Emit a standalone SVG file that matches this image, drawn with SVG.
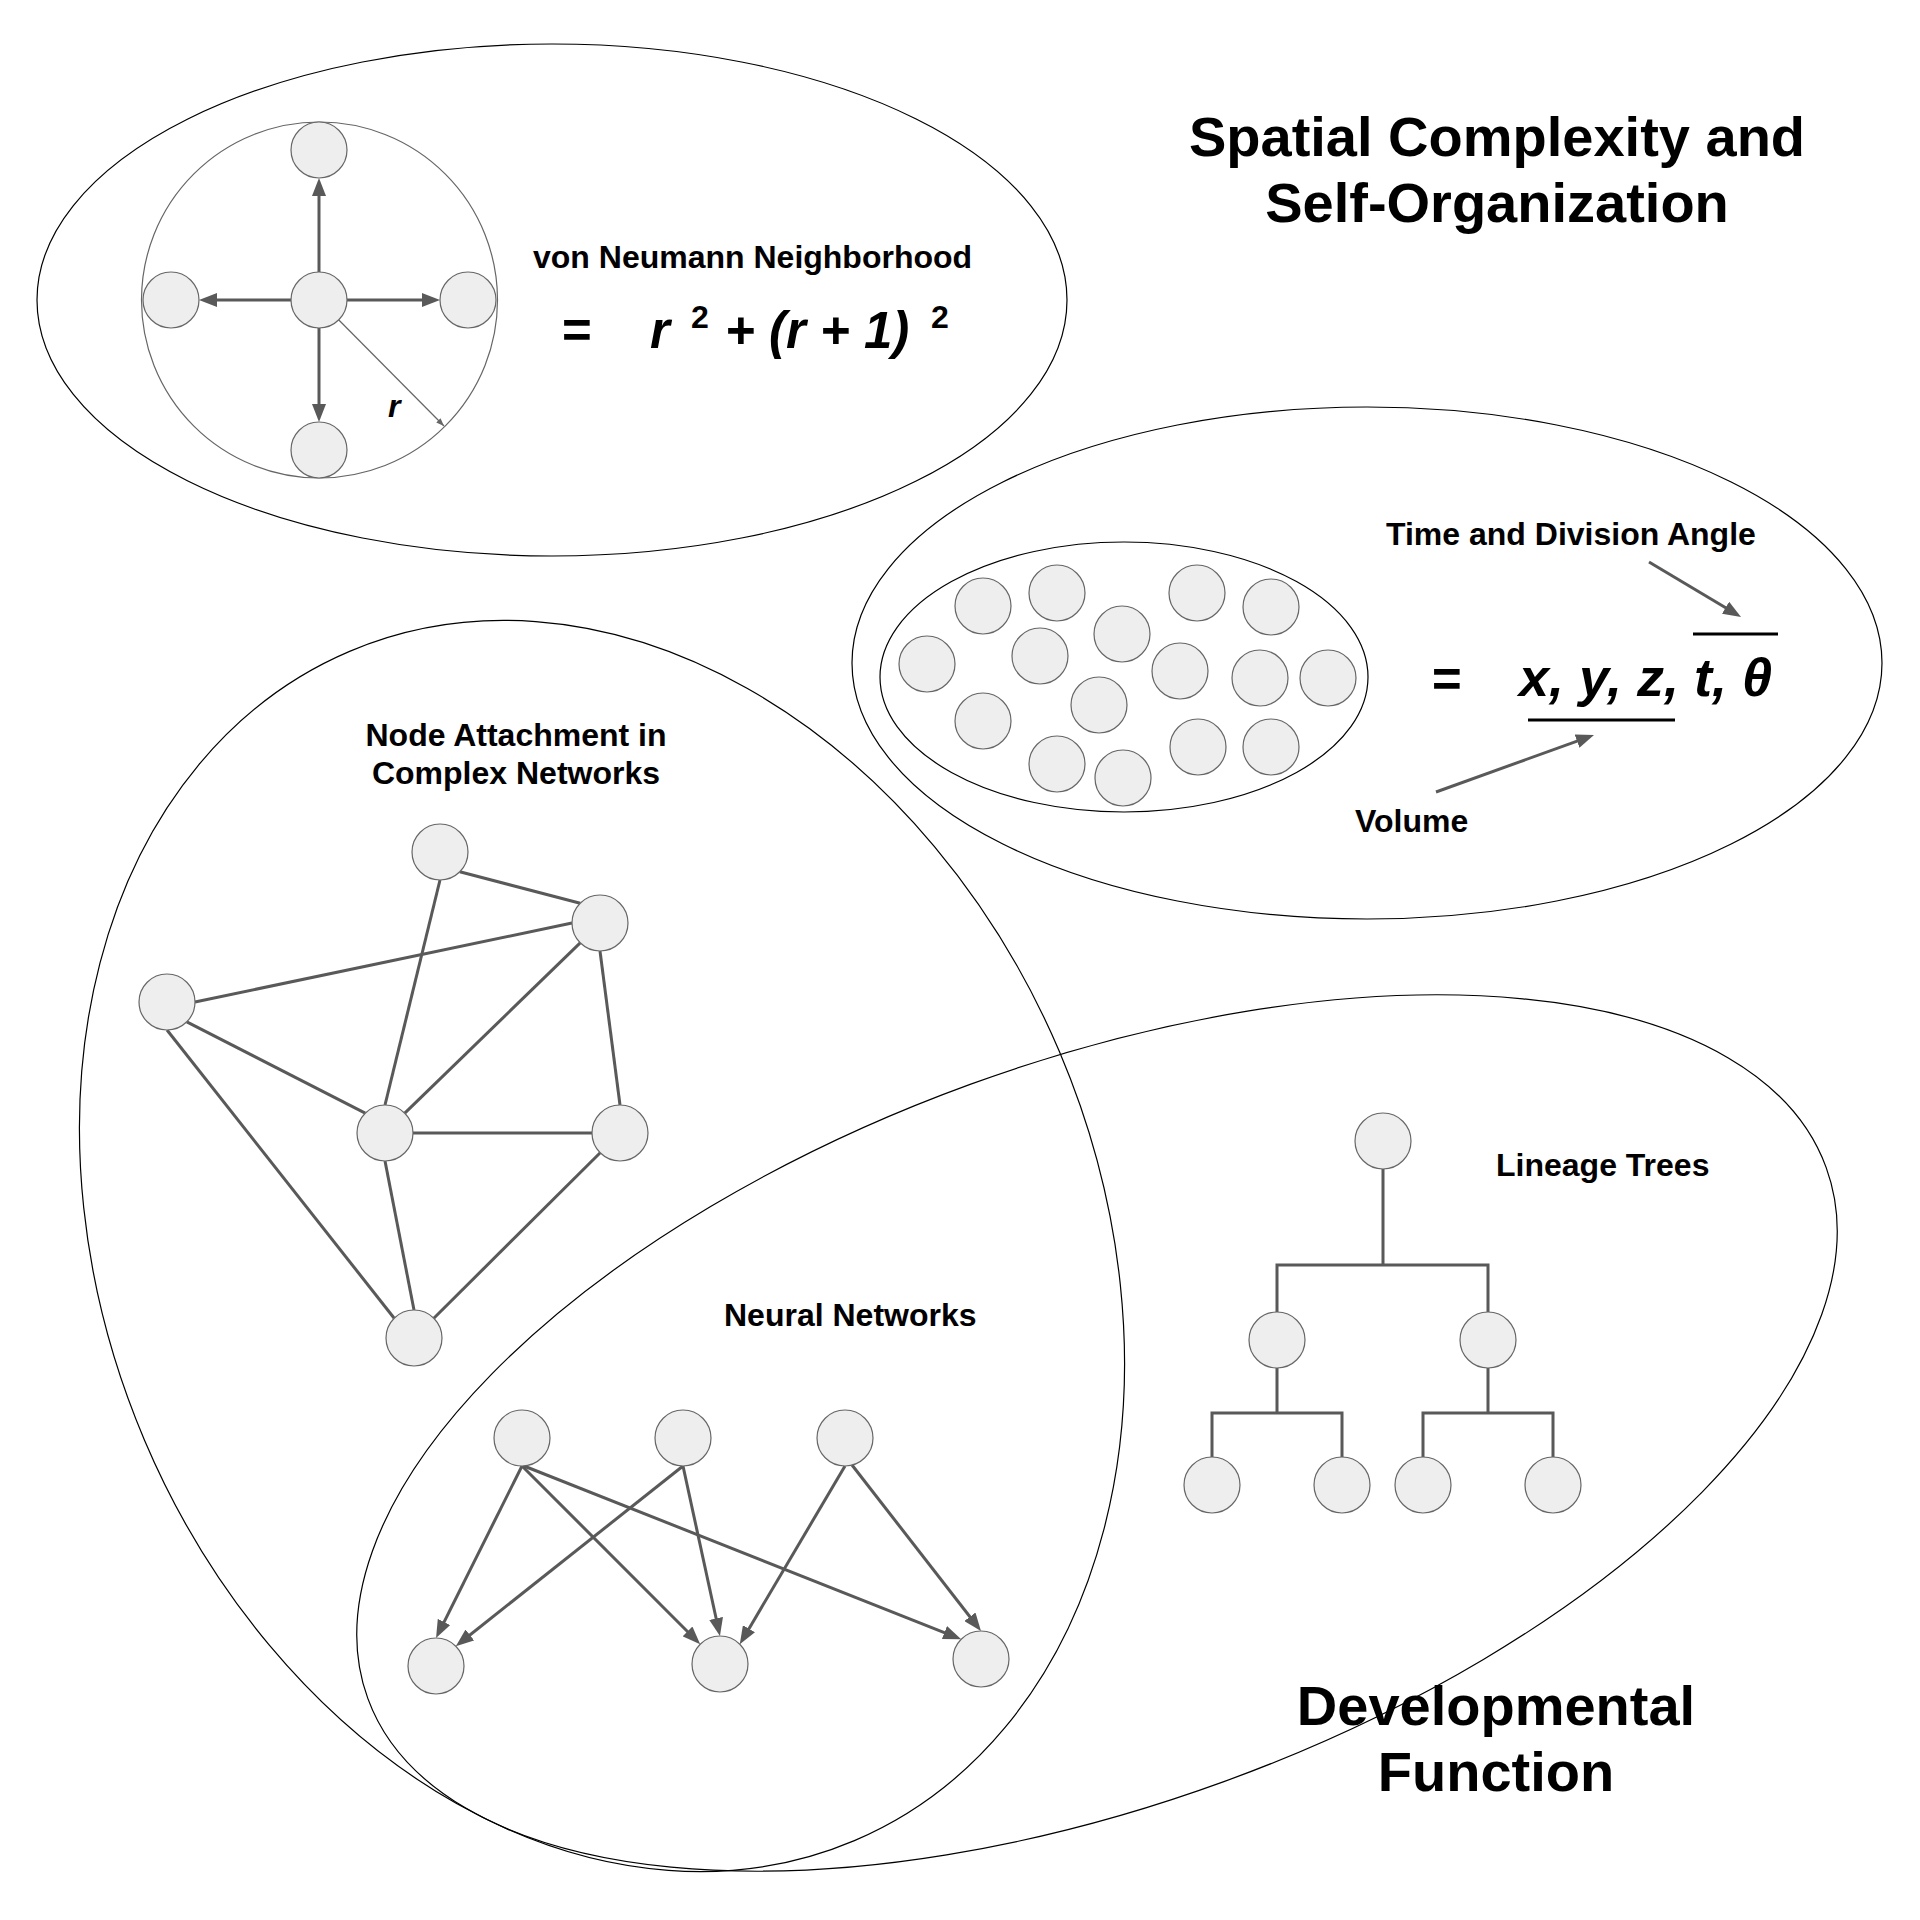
<svg xmlns="http://www.w3.org/2000/svg" width="1920" height="1920" viewBox="0 0 1920 1920">
<defs>
<style>
.region{fill:none;stroke:#000;stroke-width:1.2}
.ring{fill:none;stroke:#666;stroke-width:1.2}
.node{fill:#eeeeee;stroke:#666666;stroke-width:1.2}
.edge{fill:none;stroke:#595959;stroke-width:3}
.arr{fill:none;stroke:#595959;stroke-width:3;marker-end:url(#ah)}
.thin{fill:none;stroke:#666;stroke-width:1.2;marker-end:url(#ahs)}
.bar{stroke:#000;stroke-width:3}
text{font-family:"Liberation Sans",Arial,sans-serif;font-weight:bold;fill:#000}
.lbl{font-size:32px}
.big{font-size:56px}
.math{font-size:51px;font-style:italic}
.math2{font-size:54px;font-style:italic}
.sup{font-size:32px;font-style:normal}
</style>
<marker id="ah" markerUnits="userSpaceOnUse" markerWidth="18" markerHeight="14" viewBox="0 0 18 14" refX="6" refY="7" orient="auto">
<path d="M0,0 L18,7 L0,14 z" fill="#595959"/>
</marker>
<marker id="ahs" markerUnits="userSpaceOnUse" markerWidth="8" markerHeight="6" viewBox="0 0 8 6" refX="8" refY="3" orient="auto">
<path d="M0,0 L8,3 L0,6 z" fill="#666"/>
</marker>
</defs>
<rect width="1920" height="1920" fill="#fff"/>

<g id="regions">
<ellipse id="region-vonneumann" class="region" cx="552" cy="300" rx="515" ry="256"/>
<ellipse id="region-volume" class="region" cx="1367" cy="663" rx="515" ry="256"/>
<ellipse id="region-cells" class="region" cx="1124" cy="677" rx="244" ry="135"/>
<ellipse id="region-networks" class="region" cx="602" cy="1246" rx="497" ry="646" transform="rotate(-23 602 1246)"/>
<ellipse id="region-developmental" class="region" cx="1097" cy="1433" rx="776" ry="371" transform="rotate(-20 1097 1433)"/>
<circle id="vn-range" class="ring" cx="319.5" cy="300" r="178"/>
</g>

<g id="connectors">
<line class="arr" x1="319" y1="272" x2="319" y2="190"/>
<line class="arr" x1="291" y1="300" x2="211" y2="300"/>
<line class="arr" x1="347" y1="300" x2="428" y2="300"/>
<line class="arr" x1="319" y1="328" x2="319" y2="410"/>
<line class="thin" x1="319" y1="300" x2="444" y2="426"/>

<line class="arr" x1="1649" y1="562" x2="1730.7" y2="610.8"/>
<line class="arr" x1="1436" y1="792" x2="1582.7" y2="739.1"/>

<line class="edge" x1="459.8" y1="871.8" x2="580.2" y2="903.2"/>
<line class="edge" x1="440" y1="880" x2="385" y2="1105"/>
<line class="edge" x1="195" y1="1002" x2="572" y2="923"/>
<line class="edge" x1="186.8" y1="1021.8" x2="365.2" y2="1113.2"/>
<line class="edge" x1="167" y1="1030" x2="394.2" y2="1318.2"/>
<line class="edge" x1="580.2" y1="942.8" x2="404.8" y2="1113.2"/>
<line class="edge" x1="600" y1="951" x2="620" y2="1105"/>
<line class="edge" x1="413" y1="1133" x2="592" y2="1133"/>
<line class="edge" x1="385" y1="1161" x2="414" y2="1310"/>
<line class="edge" x1="600.2" y1="1152.8" x2="433.8" y2="1318.2"/>

<line class="arr" x1="522" y1="1466" x2="441.4" y2="1627.3"/>
<line class="arr" x1="522" y1="1466" x2="691.7" y2="1635.7"/>
<line class="arr" x1="524" y1="1466" x2="950" y2="1634.8"/>
<line class="arr" x1="683" y1="1466" x2="465.2" y2="1638.7"/>
<line class="arr" x1="683" y1="1466" x2="717.4" y2="1624.3"/>
<line class="arr" x1="845" y1="1466" x2="745.9" y2="1633.9"/>
<line class="arr" x1="852" y1="1465" x2="973.6" y2="1621.5"/>

<path class="edge" d="M1383,1169 V1265 M1277,1312 V1265 H1488 V1312"/>
<path class="edge" d="M1277,1368 V1413 M1212,1457 V1413 H1342 V1457"/>
<path class="edge" d="M1488,1368 V1413 M1423,1457 V1413 H1553 V1457"/>
</g>

<g id="vn-top"><circle class="node" cx="319" cy="150" r="28"/></g>
<g id="vn-left"><circle class="node" cx="171" cy="300" r="28"/></g>
<g id="vn-center"><circle class="node" cx="319" cy="300" r="28"/></g>
<g id="vn-right"><circle class="node" cx="468" cy="300" r="28"/></g>
<g id="vn-bottom"><circle class="node" cx="319" cy="450" r="28"/></g>

<g id="cells">
<circle class="node" cx="927" cy="664" r="28"/>
<circle class="node" cx="983" cy="606" r="28"/>
<circle class="node" cx="983" cy="721" r="28"/>
<circle class="node" cx="1057" cy="593" r="28"/>
<circle class="node" cx="1040" cy="656" r="28"/>
<circle class="node" cx="1057" cy="764" r="28"/>
<circle class="node" cx="1122" cy="634" r="28"/>
<circle class="node" cx="1099" cy="705" r="28"/>
<circle class="node" cx="1123" cy="778" r="28"/>
<circle class="node" cx="1197" cy="593" r="28"/>
<circle class="node" cx="1180" cy="671" r="28"/>
<circle class="node" cx="1198" cy="747" r="28"/>
<circle class="node" cx="1271" cy="607" r="28"/>
<circle class="node" cx="1260" cy="678" r="28"/>
<circle class="node" cx="1271" cy="747" r="28"/>
<circle class="node" cx="1328" cy="678" r="28"/>
</g>

<g id="net-t"><circle class="node" cx="440" cy="852" r="28"/></g>
<g id="net-b"><circle class="node" cx="600" cy="923" r="28"/></g>
<g id="net-a"><circle class="node" cx="167" cy="1002" r="28"/></g>
<g id="net-c"><circle class="node" cx="385" cy="1133" r="28"/></g>
<g id="net-e"><circle class="node" cx="620" cy="1133" r="28"/></g>
<g id="net-d"><circle class="node" cx="414" cy="1338" r="28"/></g>

<g id="nn-in1"><circle class="node" cx="522" cy="1438" r="28"/></g>
<g id="nn-in2"><circle class="node" cx="683" cy="1438" r="28"/></g>
<g id="nn-in3"><circle class="node" cx="845" cy="1438" r="28"/></g>
<g id="nn-out1"><circle class="node" cx="436" cy="1666" r="28"/></g>
<g id="nn-out2"><circle class="node" cx="720" cy="1664" r="28"/></g>
<g id="nn-out3"><circle class="node" cx="981" cy="1659" r="28"/></g>

<g id="tree-root"><circle class="node" cx="1383" cy="1141" r="28"/></g>
<g id="tree-l"><circle class="node" cx="1277" cy="1340" r="28"/></g>
<g id="tree-r"><circle class="node" cx="1488" cy="1340" r="28"/></g>
<g id="tree-ll"><circle class="node" cx="1212" cy="1485" r="28"/></g>
<g id="tree-lr"><circle class="node" cx="1342" cy="1485" r="28"/></g>
<g id="tree-rl"><circle class="node" cx="1423" cy="1485" r="28"/></g>
<g id="tree-rr"><circle class="node" cx="1553" cy="1485" r="28"/></g>

<g id="labels">
<text class="big" text-anchor="middle" x="1497" y="156">Spatial Complexity and</text>
<text class="big" text-anchor="middle" x="1497" y="222">Self-Organization</text>
<text class="lbl" x="533" y="268">von Neumann Neighborhood</text>
<text class="lbl" x="388" y="417" font-style="italic">r</text>
<text class="math" y="348"><tspan x="562" font-style="normal">=</tspan><tspan x="650">r</tspan><tspan class="sup" x="691" y="328">2</tspan><tspan x="725" y="348">+ (r + 1)</tspan><tspan class="sup" x="931" y="328">2</tspan></text>
<text class="lbl" x="1386" y="545">Time and Division Angle</text>
<text class="math" x="1431" y="697" font-style="normal">=</text>
<text class="math2" x="1519" y="696">x, y, z, t, θ</text>
<line class="bar" x1="1528" y1="720" x2="1675" y2="720"/>
<line class="bar" x1="1693" y1="634" x2="1778" y2="634"/>
<text class="lbl" x="1355" y="832">Volume</text>
<text class="lbl" text-anchor="middle" x="516" y="746">Node Attachment in</text>
<text class="lbl" text-anchor="middle" x="516" y="784">Complex Networks</text>
<text class="lbl" x="724" y="1326">Neural Networks</text>
<text class="lbl" x="1496" y="1176">Lineage Trees</text>
<text class="big" text-anchor="middle" x="1496" y="1725">Developmental</text>
<text class="big" text-anchor="middle" x="1496" y="1791">Function</text>
</g>
</svg>
